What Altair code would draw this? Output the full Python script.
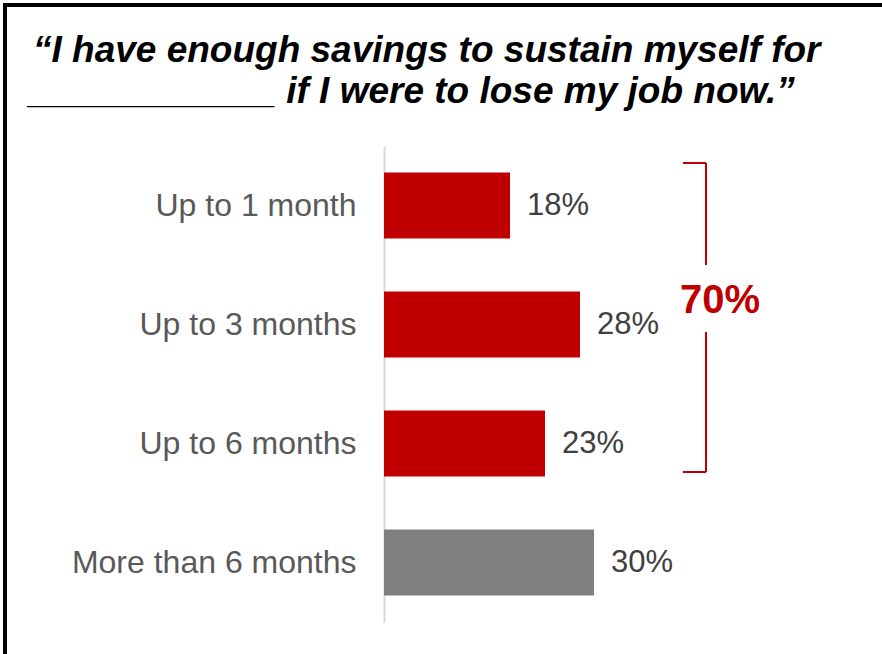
import altair as alt
import pandas as pd

categories = ["Up to 1 month", "Up to 3 months", "Up to 6 months", "More than 6 months"]
values = [18, 28, 23, 30]
bar_colors = ["#c00000", "#c00000", "#c00000", "#7f7f7f"]
labels = ["18%", "28%", "23%", "30%"]

title_line1 = "\u201cI have enough savings to sustain myself for"
title_line2 = "____________ if I were to lose my job now.\u201d"
bracket_total = "70%"

FONT = "Liberation Sans"
RED = "#c00000"

df = pd.DataFrame({"category": categories, "value": values, "color": bar_colors, "label": labels})

xscale = alt.Scale(domain=[0, 70])
yscale = alt.Scale(domain=categories, paddingInner=0.445, paddingOuter=0.2225)

base = alt.Chart(df)

bars = base.mark_bar().encode(
    x=alt.X("value:Q", scale=xscale, axis=None),
    y=alt.Y("category:N", scale=yscale, sort=categories, title=None,
            axis=alt.Axis(ticks=False, domainColor="#d9d9d9", domainWidth=2,
                          labelFont=FONT, labelFontSize=32, labelColor="#595959",
                          labelPadding=28, labelLimit=400, grid=False)),
    color=alt.Color("color:N", scale=None),
)

value_text = base.mark_text(align="left", baseline="middle", dx=17, font=FONT,
                            fontSize=31, color="#404040").encode(
    x=alt.X("value:Q", scale=xscale),
    y=alt.Y("category:N", scale=yscale, sort=categories),
    text="label:N",
)

one = alt.Data(values=[{}])

def rule(**enc):
    return alt.Chart(one).mark_rule(color=RED, strokeWidth=2).encode(**enc)

bracket = alt.layer(
    rule(x=alt.datum(46, scale=xscale), y=alt.value(17), y2=alt.value(119)),
    rule(x=alt.datum(46, scale=xscale), y=alt.value(186), y2=alt.value(326)),
    rule(x=alt.datum(42.7, scale=xscale), x2=alt.datum(46), y=alt.value(17)),
    rule(x=alt.datum(42.7, scale=xscale), x2=alt.datum(46), y=alt.value(326)),
)

total_text = alt.Chart(one).mark_text(align="center", baseline="alphabetic", font=FONT,
                                      fontSize=40, fontWeight="bold", color=RED).encode(
    x=alt.datum(48, scale=xscale), y=alt.value(167), text=alt.value(bracket_total))

t1 = alt.Chart(one).mark_text(align="left", baseline="alphabetic", font=FONT, fontSize=37,
                              fontWeight="bold", fontStyle="italic", color="black").encode(
    x=alt.value(-351), y=alt.value(-84), text=alt.value(title_line1))
t2 = alt.Chart(one).mark_text(align="left", baseline="alphabetic", font=FONT, fontSize=37,
                              fontWeight="bold", fontStyle="italic", color="black").encode(
    x=alt.value(-355), y=alt.value(-43), text=alt.value(title_line2))

frame = alt.Chart(one).mark_rect(filled=False, stroke="black", strokeWidth=4).encode(
    x=alt.value(-379), x2=alt.value(516), y=alt.value(-141), y2=alt.value(554))

chart = alt.layer(bars, value_text, bracket, total_text, t1, t2, frame).properties(
    width=490, height=476,
    autosize=alt.AutoSizeParams(type="none"),
    padding={"left": 384, "top": 146, "right": 8, "bottom": 32},
    background="white",
).configure_view(strokeWidth=0)

chart.save("out.html", embed_options={"renderer": "svg", "actions": False})
